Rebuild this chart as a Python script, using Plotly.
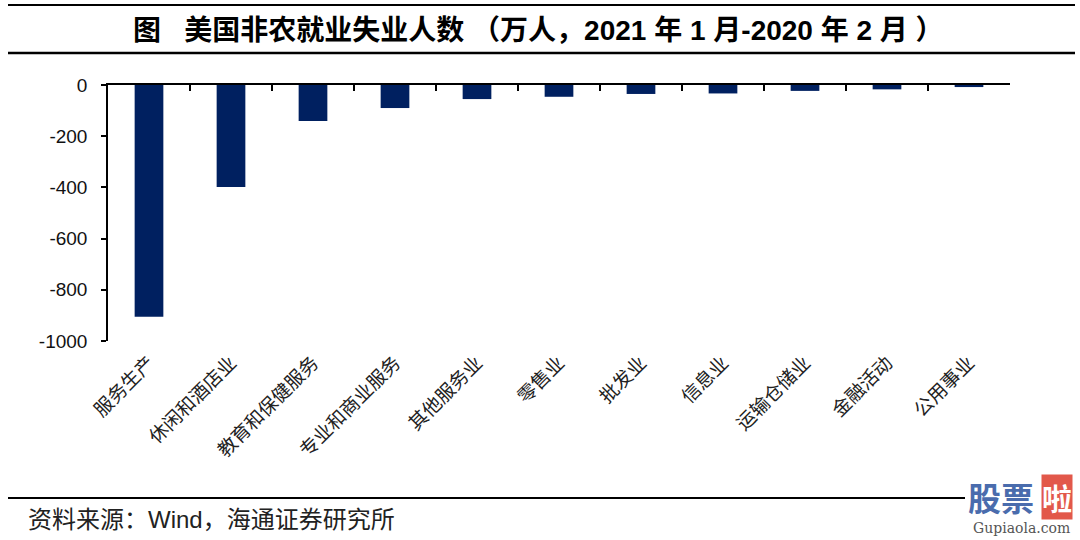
import plotly.graph_objects as go

categories = ["服务生产", "休闲和酒店业", "教育和保健服务", "专业和商业服务", "其他服务业",
              "零售业", "批发业", "信息业", "运输仓储业", "金融活动", "公用事业"]
values = [-905, -398, -141, -90, -55, -46, -35, -33, -23, -17, -8]
y_ticks = [0, -200, -400, -600, -800, -1000]
y_tick_labels = ["0", "-200", "-400", "-600", "-800", "-1000"]

NB = "\u00a0"
title_text = ("<b>图" + NB * 3 + "美国非农就业失业人数" + NB + "（万人，2021" + NB + "年" + NB + "1" + NB
              + "月-2020" + NB + "年" + NB + "2" + NB + "月" + NB + "）</b>")
source_text = "资料来源：Wind，海通证券研究所"

W, H = 1080, 540
L, R, T, B = 108, 1010, 85, 341


def px(X):
    return (X - L) / (R - L)


def py(Y):
    return (B - Y) / (B - T)


CJK = "Noto Sans CJK SC"
navy = "#002060"

fig = go.Figure()
fig.add_trace(go.Bar(x=categories, y=values, marker_color=navy, marker_line_width=0,
                     hoverinfo="x+y"))
fig.add_trace(go.Bar(x=categories, y=[None] * len(categories), xaxis="x2",
                     showlegend=False, hoverinfo="skip"))

fig.update_layout(
    width=W, height=H,
    margin=dict(l=L, r=W - R, t=T, b=H - B),
    paper_bgcolor="white", plot_bgcolor="white",
    showlegend=False, bargap=0.65,
    xaxis=dict(type="category", categoryorder="array", categoryarray=categories,
               showline=False, ticks="", showgrid=False, zeroline=False,
               tickangle=-45, ticklabelstandoff=6,
               tickfont=dict(family=CJK, size=19, color="#222")),
    xaxis2=dict(type="category", categoryorder="array", categoryarray=categories,
                overlaying="x", side="top", matches="x", anchor="y",
                showline=True, linecolor="black", linewidth=1.5,
                ticks="inside", tickson="boundaries", ticklen=6, tickwidth=1.5,
                tickcolor="black", showticklabels=False, showgrid=False),
    yaxis=dict(range=[-1000, 0], tickvals=y_ticks, ticktext=y_tick_labels,
               showline=True, linecolor="black",
               linewidth=1.5, ticks="outside", ticklen=5, tickwidth=1.5,
               tickcolor="black", showgrid=False, zeroline=False,
               ticklabelstandoff=10,
               tickfont=dict(family="Liberation Sans, Arial", size=19, color="#111")),
    font=dict(family=CJK),
)

fig.add_annotation(text=title_text, xref="paper", yref="paper",
                   x=px(538), y=py(30), xanchor="center", yanchor="middle",
                   showarrow=False,
                   font=dict(family="Liberation Sans, " + CJK, size=28, color="black"))
fig.add_annotation(text=source_text, xref="paper", yref="paper",
                   x=px(26), y=py(519), xanchor="left", yanchor="middle",
                   showarrow=False,
                   font=dict(family="Liberation Sans, " + CJK, size=24, color="#222"))

# watermark
fig.add_annotation(text="<b>股票</b>", xref="paper", yref="paper",
                   x=px(1036), y=py(497), xanchor="right", yanchor="middle",
                   showarrow=False, font=dict(family=CJK, size=33, color="#4a6cad"))
fig.add_annotation(text="<b>啦</b>", xref="paper", yref="paper",
                   x=px(1057), y=py(497), xanchor="center", yanchor="middle",
                   showarrow=False, bgcolor="#e2584a", borderpad=0,
                   font=dict(family=CJK, size=30, color="white"))
fig.add_annotation(text="Gupiaola.com", xref="paper", yref="paper",
                   x=px(1021), y=py(528), xanchor="center", yanchor="middle",
                   showarrow=False, font=dict(family="DejaVu Serif", size=14, color="#555"))

# rule lines
fig.add_shape(type="line", xref="paper", yref="paper", x0=px(8), x1=px(1075),
              y0=py(5), y1=py(5), line=dict(color="black", width=2))
fig.add_shape(type="line", xref="paper", yref="paper", x0=px(8), x1=px(1075),
              y0=py(53), y1=py(53), line=dict(color="black", width=2.5))
fig.add_shape(type="line", xref="paper", yref="paper", x0=px(8), x1=px(965),
              y0=py(498), y1=py(498), line=dict(color="black", width=2))

fig.write_html("out.html", config={"displayModeBar": False},
               post_script="document.body.style.margin='0';document.body.style.overflow='hidden';")
